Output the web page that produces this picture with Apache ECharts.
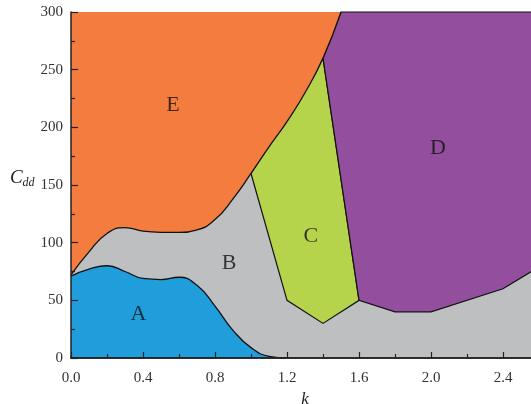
<!DOCTYPE html>
<html>
<head>
<meta charset="utf-8">
<script src="https://cdn.jsdelivr.net/npm/echarts@6/dist/echarts.min.js"></script>
<style>
  html, body { margin: 0; padding: 0; background: #fff; }
  #chart { width: 531px; height: 404px; }
</style>
</head>
<body>
<div id="chart"></div>
<script>
// phase boundaries, [k, Cdd]
const boundaryA = [[0, 71], [0.1, 77], [0.2, 80], [0.3, 75], [0.4, 69], [0.5, 68], [0.6, 70],
  [0.7, 63], [0.8, 45], [0.9, 24], [1.0, 9], [1.1, 1.5], [1.2, 0]]
const boundaryE = [[0, 72], [0.1, 92], [0.2, 108], [0.3, 113], [0.4, 110], [0.5, 109], [0.6, 109],
  [0.7, 111], [0.8, 120], [0.9, 138], [1.0, 160], [1.1, 183], [1.2, 205], [1.3, 230],
  [1.4, 260], [1.5, 300]]
const polygonC = [[1.0, 160], [1.2, 50], [1.4, 30], [1.6, 50], [1.4, 260]]
const polygonD = [[1.5, 300], [1.4, 260], [1.6, 50], [1.8, 40], [2.0, 40], [2.4, 60], [2.6, 79], [2.6, 300]]
const regionNames = ['A', 'B', 'C', 'D', 'E']
const regionNamePoints = [[0.375, 38], [0.878, 82], [1.333, 106], [2.039, 182], [0.567, 219]]

const colors = {
  A: '#1f9edb',
  B: '#bebfc1',
  C: '#b6d44b',
  D: '#944e9e',
  E: '#f47c3e'
}
const serif = '"Liberation Serif", "DejaVu Serif", serif'

function polygonSeries (points, color) {
  return {
    type: 'custom',
    z: 2,
    data: [[0, 0]],
    renderItem: function (params, api) {
      return {
        type: 'polygon',
        shape: { points: points.map(p => api.coord(p)) },
        style: { fill: color, stroke: '#111', lineWidth: 1.2 }
      }
    }
  }
}

const chart = echarts.init(document.getElementById('chart'))
chart.setOption({
  animation: false,
  grid: {
    left: 71,
    top: 12,
    width: 468,
    height: 346,
    outerBoundsMode: 'none',
    containLabel: false,
    show: true,
    backgroundColor: colors.B,
    borderWidth: 0
  },
  xAxis: [{
    type: 'value',
    min: 0,
    max: 2.6,
    interval: 0.4,
    z: 10,
    name: 'k',
    nameLocation: 'middle',
    nameGap: 31,
    nameTextStyle: { fontFamily: serif, fontStyle: 'italic', fontSize: 17, color: '#222' },
    axisLine: { onZero: false, lineStyle: { color: '#222', width: 1.5 } },
    axisTick: { inside: true, length: 6, lineStyle: { color: '#222', width: 1.2 } },
    minorTick: { show: true, splitNumber: 2, length: 4, lineStyle: { color: '#222', width: 1.2 } },
    axisLabel: {
      margin: 13,
      showMaxLabel: false,
      fontFamily: serif,
      fontSize: 15,
      color: '#333',
      formatter: v => v.toFixed(1)
    },
    splitLine: { show: false }
  }, {
    type: 'value',
    position: 'top',
    min: 0,
    max: 2.6,
    z: 10,
    axisLine: { lineStyle: { color: '#222', width: 1.5 } },
    axisTick: { show: false },
    axisLabel: { show: false },
    splitLine: { show: false }
  }],
  yAxis: {
    type: 'value',
    min: 0,
    max: 300,
    interval: 50,
    z: 10,
    name: '{c|C}{s|dd}',
    nameLocation: 'middle',
    nameRotate: 0,
    nameGap: 36,
    nameTextStyle: {
      padding: [0, 0, 14, 0],
      rich: {
        c: { fontFamily: serif, fontStyle: 'italic', fontSize: 19, color: '#222' },
        s: { fontFamily: serif, fontStyle: 'italic', fontSize: 12, color: '#222', padding: [10, 0, 0, 0] }
      }
    },
    axisLine: { onZero: false, lineStyle: { color: '#222', width: 1.5 } },
    axisTick: { inside: true, length: 7, lineStyle: { color: '#222', width: 1.2 } },
    minorTick: { show: true, splitNumber: 2, length: 4, lineStyle: { color: '#222', width: 1.2 } },
    axisLabel: { margin: 8, fontFamily: serif, fontSize: 15, color: '#333' },
    splitLine: { show: false }
  },
  series: [
    polygonSeries(polygonC, colors.C),
    polygonSeries(polygonD, colors.D),
    {
      type: 'line',
      z: 3,
      data: boundaryA,
      smooth: 0.5,
      symbol: 'none',
      lineStyle: { color: '#111', width: 1.3 },
      areaStyle: { color: colors.A, opacity: 1, origin: 'start' }
    },
    {
      type: 'line',
      z: 4,
      data: boundaryE,
      smooth: 0.5,
      symbol: 'none',
      lineStyle: { color: '#111', width: 1.3 },
      areaStyle: { color: colors.E, opacity: 1, origin: 'end' }
    },
    {
      type: 'scatter',
      z: 6,
      symbolSize: 0,
      data: regionNamePoints.map((p, i) => ({ value: p, name: regionNames[i] })),
      label: {
        show: true,
        position: 'inside',
        formatter: p => p.name,
        fontFamily: serif,
        fontSize: 22,
        color: '#111'
      }
    }
  ]
})
</script>
</body>
</html>
